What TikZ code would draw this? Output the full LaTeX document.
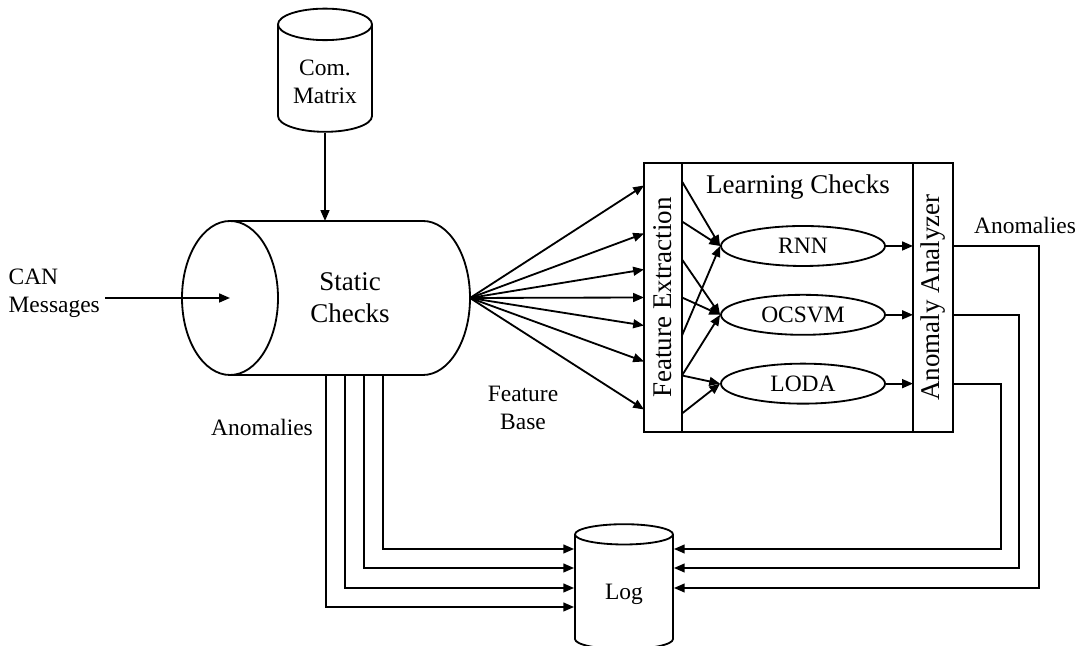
\documentclass[tikz,border=0pt]{standalone}
\usepackage{fontspec}
\setmainfont{Liberation Serif}
\usetikzlibrary{arrows.meta,calc,positioning,shapes.geometric}

\begin{document}
\begin{tikzpicture}[>={Triangle[length=0.27cm,width=0.22cm]},line width=1.3pt,
  every node/.style={font=\fontsize{16.7}{20}\selectfont},
  big/.style={font=\fontsize{19.2}{23}\selectfont},
  db/.style={draw,cylinder,shape border rotate=90,aspect=0.43,align=center},
  model/.style={draw,ellipse,minimum width=4.1cm,minimum height=1cm},
  strip/.style={draw,big,minimum height=6.725cm,inner sep=0pt,outer sep=0pt}]
\useasboundingbox (0,0) rectangle (27,16.15);
% ---- data stores ----
\node[db,minimum width=2.35cm,minimum height=3.08cm] (cmx) at (8.125,14.1) {Com.\\Matrix};
\node[db,minimum width=2.45cm,minimum height=3.125cm] (log) at (15.6,1.29) {Log};
% ---- static checks (drum lying on its side) ----
\node[big,align=center,inner sep=0pt,outer sep=0pt,
  minimum width=6cm,minimum height=3.85cm] (sc) at (8.75,8.7) {Static\\Checks};
\draw (sc.west) ellipse [x radius=1.2cm,y radius=1.925cm];
\draw (sc.north west) -- ++(4.825,0)
  arc[start angle=90,end angle=-90,x radius=1.175cm,y radius=1.925cm] -- (sc.south west);
\node[align=left,anchor=west] (can) at (0.075,8.825) {CAN\\Messages};
\draw[->] (can.east |- sc.west) -- (sc.west);
\draw[->] (cmx.south) -- (cmx.south |- sc.north);
% ---- learning checks block ----
\node[strip,minimum width=0.95cm] (fe) at (16.575,8.7125) {\rotatebox{90}{Feature Extraction}};
\node[strip,minimum width=5.775cm,right=0pt of fe] (lc) {};
\node[strip,minimum width=1cm,right=0pt of lc] (aa) {\rotatebox{90}{Anomaly Analyzer}};
\node[big] (lct) at (19.95,11.475) {Learning Checks};
\node[model] (rnn) at (20.075,10.0) {RNN};
\node[model,below=0.675cm of rnn] (ocsvm) {OCSVM};
\node[model,below=0.675cm of ocsvm] (loda) {LODA};
% feature base fan
\foreach \dy in {2.8,1.6,0.7,0,-0.7,-1.6,-2.8}
  \draw[->] (sc.east) -- ([yshift=\dy cm]fe.west);
\foreach \dy/\tgt in {2.9/rnn,1.9/rnn,-0.95/rnn,0.95/ocsvm,0/ocsvm,-1.95/ocsvm,-1.95/loda,-2.9/loda}
  \draw[->] ([yshift=\dy cm]fe.east) -- (\tgt.west);
\foreach \m in {rnn,ocsvm,loda}
  \draw[->] (\m.east) -- (\m.east -| aa.west);
% ---- anomalies to log ----
\foreach \m/\xx/\ly in {rnn/25.975/1.45,ocsvm/25.475/1.95,loda/25.025/2.425}
  \draw[->] (\m.east -| aa.east) -- (\m.east -| \xx,0) |- (log.east |- 0,\ly);
\foreach \dx/\ly in {-0.6/0.975,-0.125/1.45,0.35/1.95,0.825/2.425}
  \draw[->] ([xshift=\dx cm]sc.south) |- (log.west |- 0,\ly);
% labels
\node (anl) at (6.55,5.475) {Anomalies};
\node (anr) at (25.625,10.525) {Anomalies};
\node[align=center] (fb) at (13.075,5.95) {Feature\\Base};
\end{tikzpicture}
\end{document}
